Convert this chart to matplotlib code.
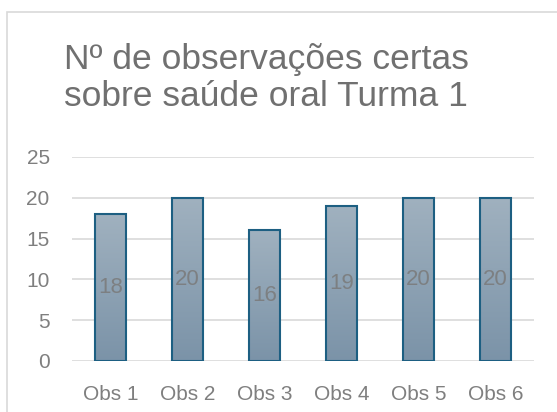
import matplotlib
matplotlib.use("Agg")
import matplotlib.pyplot as plt
import numpy as np
from matplotlib.patches import Rectangle

# data
categories = ["Obs 1", "Obs 2", "Obs 3", "Obs 4", "Obs 5", "Obs 6"]
values = [18, 20, 16, 19, 20, 20]
yticks = [0, 5, 10, 15, 20, 25]
title = "Nº de observações certas\nsobre saúde oral Turma 1"

plt.rcParams["font.family"] = ["Liberation Sans", "DejaVu Sans"]
gray = "#7f7f7f"

fig = plt.figure(figsize=(5.57, 4.12), dpi=100)
ax = fig.add_axes([0.129, 0.124, 0.83, 0.495])

# chart frame (cut off at right and bottom like the reference)
fig.patches.append(Rectangle((7 / 557, -0.05), 1.0, 1 - 12 / 412 + 0.05,
                             transform=fig.transFigure, fill=False,
                             edgecolor="#d9d9d9", linewidth=1.2))

x = np.arange(len(categories))
bars = ax.bar(x, values, width=0.4, color="none", edgecolor="#1d5f82",
              linewidth=1.5, zorder=3)

# vertical gradient fill inside each bar
grad = np.linspace(0, 1, 256).reshape(-1, 1)
cmap = matplotlib.colors.LinearSegmentedColormap.from_list("g", ["#7b93a8", "#a0b1bf"])
for b in bars:
    x0, w, h = b.get_x(), b.get_width(), b.get_height()
    im = ax.imshow(grad, extent=[x0, x0 + w, 0, h], origin="lower",
                   cmap=cmap, aspect="auto", zorder=2)
    im.set_clip_path(b)

for xi, v in zip(x, values):
    ax.text(xi, v / 2, str(v), ha="center", va="center", fontsize=16,
            color="#7a7a7a", alpha=0.85, zorder=4)

ax.set_xlim(-0.5, len(categories) - 0.5)
ax.set_ylim(0, 25)
ax.set_yticks(yticks)
ax.set_xticks(x)
ax.set_xticklabels(categories)
ax.tick_params(length=0, labelsize=15, labelcolor=gray)
ax.tick_params(axis="x", pad=17)
ax.tick_params(axis="y", pad=16)
ax.grid(axis="y", color="#d9d9d9", linewidth=1.2, zorder=0)
for s in ax.spines.values():
    s.set_visible(False)

fig.text(266 / 557, 1 - 78 / 412, title, ha="center", va="center",
         fontsize=25.5, color="#707070", linespacing=1.15)

fig.savefig("out.png", dpi=100)
